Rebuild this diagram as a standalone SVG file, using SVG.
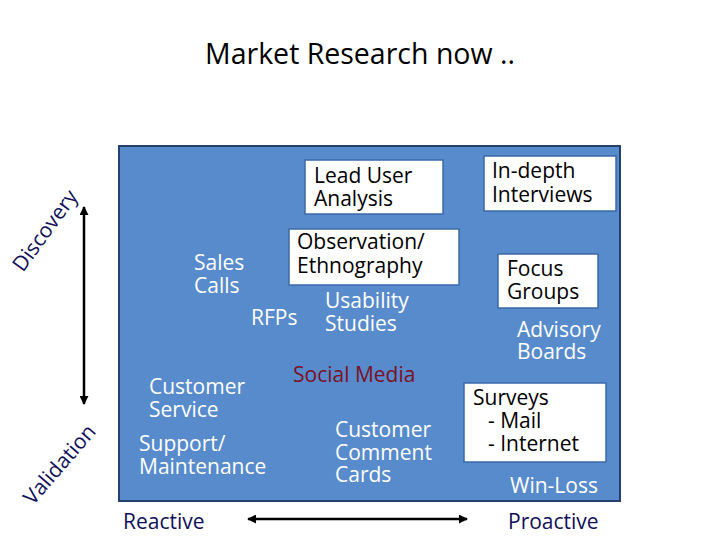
<svg xmlns="http://www.w3.org/2000/svg" width="728" height="546" viewBox="0 0 728 546">
<defs>
<style>
text{font-family:"Open Sans",Lato,"Liberation Sans",sans-serif;font-size:21px}
.w{fill:#ffffff}
.k{fill:#000000}
.n{fill:#10105a}
.r{fill:#7b1026}
.box{fill:#ffffff;stroke:#3a6aa8;stroke-width:1.5}
.ax{stroke:#000;stroke-width:2.5;fill:none}
</style>
<marker id="ah" viewBox="0 0 10 10" refX="9" refY="5" markerWidth="3.6" markerHeight="3.6" orient="auto-start-reverse">
<path d="M0,0 L10,5 L0,10 z" fill="#000"/>
</marker>
</defs>
<rect width="728" height="546" fill="#fff"/>
<text x="360" y="64" text-anchor="middle" class="k" style="font-size:28.5px">Market Research now ..</text>
<rect id="panel" x="119" y="146" width="501" height="355" fill="#588bcb" stroke="#24406e" stroke-width="2"/>
<g id="connectors">
<line class="ax" x1="84" y1="207" x2="84" y2="404" marker-start="url(#ah)" marker-end="url(#ah)"/>
<line class="ax" x1="248" y1="519" x2="467" y2="519" marker-start="url(#ah)" marker-end="url(#ah)"/>
</g>
<g id="discovery"><text class="n" transform="translate(23,273) rotate(-54)">Discovery</text></g>
<g id="validation"><text class="n" transform="translate(33,506) rotate(-49)">Validation</text></g>
<g id="reactive"><text class="n" x="123" y="529">Reactive</text></g>
<g id="proactive"><text class="n" x="508" y="529">Proactive</text></g>
<g id="lead-user"><rect class="box" x="305" y="160" width="138" height="54"/><text class="k" x="314" y="183">Lead User</text><text class="k" x="314" y="206">Analysis</text></g>
<g id="in-depth"><rect class="box" x="484" y="156" width="132" height="55"/><text class="k" x="492" y="178">In-depth</text><text class="k" x="492" y="202">Interviews</text></g>
<g id="observation"><rect class="box" x="289" y="229" width="170" height="56"/><text class="k" x="297" y="249">Observation/</text><text class="k" x="297" y="273">Ethnography</text></g>
<g id="focus"><rect class="box" x="498" y="254" width="100" height="54"/><text class="k" x="507" y="276">Focus</text><text class="k" x="507" y="299">Groups</text></g>
<g id="surveys"><rect class="box" x="464" y="383" width="142" height="79"/><text class="k" x="473" y="405">Surveys</text><text class="k" x="488" y="428"> - Mail</text><text class="k" x="488" y="451"> - Internet</text></g>
<g id="sales"><text class="w" x="194" y="270">Sales</text><text class="w" x="194" y="293">Calls</text></g>
<g id="rfps"><text class="w" x="251" y="325">RFPs</text></g>
<g id="usability"><text class="w" x="325" y="308">Usability</text><text class="w" x="325" y="331">Studies</text></g>
<g id="advisory"><text class="w" x="517" y="337">Advisory</text><text class="w" x="517" y="359">Boards</text></g>
<g id="social"><text class="r" x="293" y="382">Social Media</text></g>
<g id="customer-service"><text class="w" x="149" y="394">Customer</text><text class="w" x="149" y="417">Service</text></g>
<g id="support"><text class="w" x="139" y="451">Support/</text><text class="w" x="139" y="474">Maintenance</text></g>
<g id="comment-cards"><text class="w" x="335" y="437">Customer</text><text class="w" x="335" y="460">Comment</text><text class="w" x="335" y="482">Cards</text></g>
<g id="winloss"><text class="w" x="510" y="493">Win-Loss</text></g>
</svg>
